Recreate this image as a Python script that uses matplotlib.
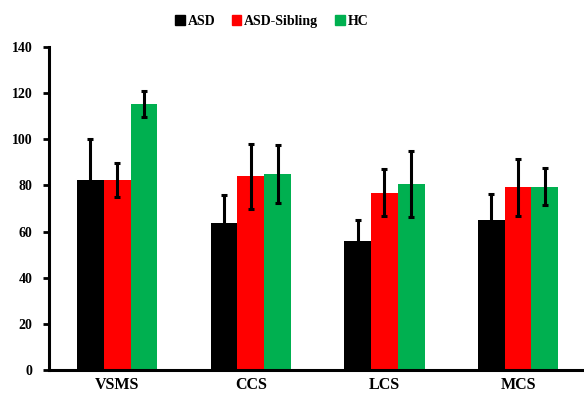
import numpy as np
import matplotlib.pyplot as plt
from matplotlib.patches import Patch

# Values
categories = ["VSMS", "CCS", "LCS", "MCS"]
groups = ["ASD", "ASD-Sibling", "HC"]
asd_mean = [82.2, 63.8, 56.1, 64.8]
asd_err = [17.8, 12.0, 8.7, 11.3]
sib_mean = [82.2, 83.9, 76.9, 79.2]
sib_err = [7.4, 14.0, 10.2, 12.4]
hc_mean = [115.3, 85.0, 80.6, 79.4]
hc_err = [5.5, 12.4, 14.2, 8.1]

colors = ["#000000", "#ff0000", "#00b050"]

plt.rcParams['font.family'] = ['Liberation Serif', 'DejaVu Serif']
plt.rcParams['font.weight'] = 'bold'

fig = plt.figure(figsize=(5.84, 3.96), dpi=100)
ax = fig.add_axes([0.084, 0.066, 0.913, 0.815])

x = np.arange(len(categories))
width = 0.2
means = [asd_mean, sib_mean, hc_mean]
errs = [asd_err, sib_err, hc_err]

for i in range(3):
    ax.bar(x + (i - 1) * width, means[i], width, color=colors[i],
           yerr=errs[i], error_kw=dict(ecolor="black", elinewidth=2.2,
                                      capsize=2.5, capthick=2.2),
           zorder=2)

ax.set_xlim(-0.51, 3.48)
ax.set_ylim(0, 140)
ax.set_yticks(range(0, 141, 20))
ax.set_xticks(x)
ax.set_xticklabels(categories, fontsize=11.5, fontweight='bold')
ax.tick_params(axis='y', labelsize=10, width=2, length=4, direction='out',
               pad=8)
ax.tick_params(axis='x', length=0, pad=5)
for lab in ax.get_yticklabels():
    lab.set_fontweight('bold')

ax.spines['top'].set_visible(False)
ax.spines['right'].set_visible(False)
ax.spines['left'].set_linewidth(2.2)
ax.spines['bottom'].set_linewidth(2.2)

handles = [Patch(color=c, label=g) for c, g in zip(colors, groups)]
fig.legend(handles=handles, loc='center', bbox_to_anchor=(0.465, 0.946),
           ncol=3, frameon=False, handlelength=0.7, handleheight=0.7,
           handletextpad=0.2, columnspacing=1.2,
           prop=dict(size=10, weight='bold'))

fig.savefig("out.png", dpi=100)
